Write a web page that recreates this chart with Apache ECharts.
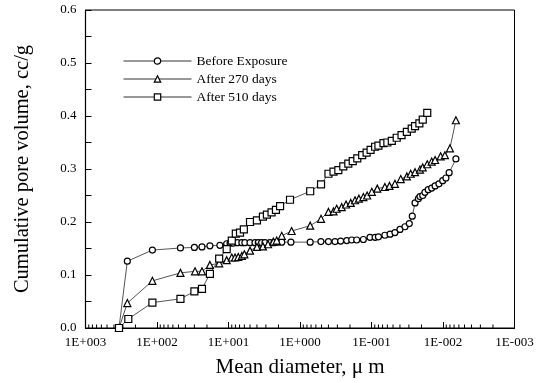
<!DOCTYPE html>
<html>
<head>
<meta charset="utf-8">
<script src="https://cdn.jsdelivr.net/npm/echarts@6/dist/echarts.min.js"></script>
<style>html,body{margin:0;padding:0;background:#fff}#c{width:549px;height:383px}</style>
</head>
<body>
<div id="c"></div>
<script>
// ---- data (diameter in µm, cumulative pore volume in cc/g) ----
const seriesNames = ['Before Exposure', 'After 270 days', 'After 510 days'];

const beforeExposure = [
  [340,0],[260,0.126],[116,0.147],[47,0.151],[30,0.152],[23.5,0.153],[18.2,0.155],[13.2,0.156],
  [10.6,0.159],[9.5,0.160],[8.6,0.160],[7.5,0.161],[6.5,0.161],[5.9,0.161],[5.0,0.161],[4.26,0.161],
  [3.83,0.161],[3.44,0.161],[3.09,0.161],[2.63,0.161],[2.31,0.161],[2.05,0.162],[1.8,0.162],[1.34,0.162],
  [0.72,0.162],[0.51,0.163],[0.40,0.163],[0.324,0.163],[0.27,0.164],[0.222,0.165],[0.189,0.166],[0.161,0.166],
  [0.130,0.167],[0.105,0.171],[0.089,0.171],[0.080,0.172],[0.065,0.175],[0.055,0.177],[0.047,0.180],[0.040,0.186],
  [0.034,0.191],[0.0296,0.197],[0.0269,0.211],[0.0246,0.236],[0.0221,0.244],[0.021,0.248],[0.0192,0.250],[0.0179,0.256],
  [0.0161,0.261],[0.0144,0.264],[0.0129,0.268],[0.0114,0.272],[0.0101,0.278],[0.0091,0.283],[0.0082,0.293],[0.0066,0.319]
];

const after270 = [
  [340,0],[260,0.047],[116,0.089],[47,0.104],[29.4,0.107],[23.5,0.107],[18.2,0.119],[13.5,0.122],
  [10.6,0.128],[9.0,0.133],[8.1,0.133],[7.3,0.134],[6.5,0.136],[6.0,0.139],[5.0,0.146],[4.0,0.153],
  [3.3,0.154],[2.8,0.158],[2.36,0.163],[2.12,0.165],[1.8,0.174],[1.31,0.183],[0.72,0.193],[0.508,0.206],
  [0.40,0.219],[0.34,0.220],[0.307,0.225],[0.261,0.228],[0.227,0.233],[0.195,0.236],[0.170,0.241],[0.150,0.244],
  [0.130,0.247],[0.115,0.250],[0.099,0.257],[0.083,0.263],[0.065,0.266],[0.056,0.268],[0.047,0.272],[0.039,0.281],
  [0.032,0.286],[0.0283,0.291],[0.0246,0.294],[0.021,0.299],[0.0192,0.303],[0.0166,0.309],[0.0144,0.314],[0.0129,0.317],
  [0.0108,0.324],[0.0094,0.326],[0.0080,0.339],[0.0066,0.392]
];

const after510 = [
  [340,0],[252,0.017],[116,0.048],[47,0.055],[30,0.069],[23.5,0.074],[18.2,0.102],[13.5,0.131],
  [10.6,0.149],[9.0,0.165],[7.9,0.178],[6.9,0.180],[6.1,0.186],[5.0,0.200],[4.0,0.203],[3.3,0.210],
  [2.9,0.214],[2.5,0.218],[2.17,0.223],[1.9,0.230],[1.38,0.242],[0.72,0.258],[0.508,0.271],[0.40,0.291],
  [0.34,0.295],[0.291,0.298],[0.248,0.305],[0.211,0.310],[0.183,0.315],[0.158,0.320],[0.135,0.326],[0.117,0.331],
  [0.103,0.336],[0.089,0.342],[0.080,0.344],[0.068,0.349],[0.060,0.350],[0.052,0.353],[0.0444,0.359],[0.038,0.364],
  [0.032,0.370],[0.0274,0.376],[0.0246,0.381],[0.0214,0.386],[0.0192,0.393],[0.0166,0.406]
];

// tick labels of the log x axis
const xTickValues = [1000, 100, 10, 1, 0.1, 0.01, 0.001];
const xTickLabels = ['1E+003', '1E+002', '1E+001', '1E+000', '1E-001', '1E-002', '1E-003'];
// minor (log) ticks: multipliers within each decade
const minorMultipliers = [2, 3, 4, 5, 6, 7, 8, 9];
const decadeStarts = [0.001, 0.01, 0.1, 1, 10, 100];

const minorTickData = [];
decadeStarts.forEach(d => minorMultipliers.forEach(m => minorTickData.push([+(d * m).toPrecision(6), 0])));

const FONT = '"Liberation Serif", "Times New Roman", serif';

const chart = echarts.init(document.getElementById('c'), null, {renderer: 'canvas'});

function lineSeries(name, data, symbol, size) {
  return {
    name: name,
    type: 'line',
    data: data,
    symbol: symbol,
    symbolSize: size,
    showAllSymbol: true,
    lineStyle: {color: '#555', width: 1},
    itemStyle: {color: '#fff', borderColor: '#000', borderWidth: 1.2},
    emphasis: {disabled: true},
    z: 3
  };
}

chart.setOption({
  animation: false,
  backgroundColor: '#fff',
  grid: {left: 85.5, right: 34.5, top: 10, bottom: 53, show: true, borderColor: '#000', borderWidth: 1},
  legend: {
    data: seriesNames,
    orient: 'vertical',
    left: 123,
    top: 54,
    padding: 0,
    itemWidth: 68,
    itemHeight: 8,
    itemGap: 4,
    itemStyle: {color: '#fff', borderColor: '#000', borderWidth: 1.2},
    lineStyle: {color: '#333', width: 1},
    textStyle: {fontFamily: FONT, fontSize: 13.5, color: '#000', lineHeight: 14}
  },
  xAxis: {
    type: 'log',
    logBase: 10,
    min: 0.001,
    max: 1000,
    inverse: true,
    name: 'Mean diameter, μ m',
    nameLocation: 'middle',
    nameGap: 29,
    nameTextStyle: {fontFamily: FONT, fontSize: 21, color: '#000'},
    axisLine: {onZero: false, lineStyle: {color: '#000', width: 1.2}},
    axisTick: {inside: true, length: 6, lineStyle: {color: '#000'}},
    axisLabel: {
      fontFamily: FONT, fontSize: 13, color: '#000', margin: 8,
      formatter: function (v) {
        const i = xTickValues.findIndex(t => Math.abs(Math.log10(t) - Math.log10(v)) < 1e-6);
        return i >= 0 ? xTickLabels[i] : '';
      }
    },
    splitLine: {show: false}
  },
  yAxis: {
    type: 'value',
    min: 0,
    max: 0.6,
    interval: 0.1,
    name: 'Cumulative pore volume, cc/g',
    nameLocation: 'middle',
    nameGap: 52,
    nameTextStyle: {fontFamily: FONT, fontSize: 20.5, color: '#000'},
    axisLine: {show: true, lineStyle: {color: '#000', width: 1.2}},
    axisTick: {inside: true, length: 6, lineStyle: {color: '#000'}},
    minorTick: {show: true, splitNumber: 2, length: 6, lineStyle: {color: '#000'}},
    axisLabel: {fontFamily: FONT, fontSize: 13, color: '#000', margin: 9, formatter: v => v.toFixed(1)},
    splitLine: {show: false}
  },
  series: [
    lineSeries(seriesNames[0], beforeExposure, 'circle', 6),
    lineSeries(seriesNames[1], after270, 'triangle', 7),
    lineSeries(seriesNames[2], after510, 'rect', 7),
    {
      name: 'minorTicks',
      type: 'custom',
      silent: true,
      data: minorTickData,
      z: 2,
      renderItem: function (params, api) {
        const p = api.coord([api.value(0), 0]);
        return {type: 'line', shape: {x1: p[0], y1: p[1], x2: p[0], y2: p[1] - 3.5}, style: {stroke: '#000', lineWidth: 1}};
      }
    }
  ]
});
</script>
</body>
</html>
